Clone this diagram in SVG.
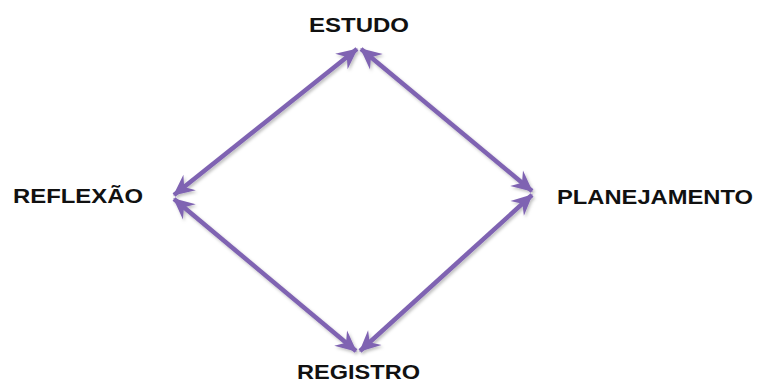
<svg xmlns="http://www.w3.org/2000/svg" width="763" height="383" viewBox="0 0 763 383">
<style>
.lbl{font-family:"Liberation Sans",Arial,sans-serif;font-weight:bold;font-size:21px;fill:#111;}
.con{stroke:#7f63b2;stroke-width:4.5;fill:none;marker-start:url(#ah);marker-end:url(#ah);}
</style>
<defs>
<marker id="ah" viewBox="-22 -12 24 24" markerWidth="24" markerHeight="24" refX="0" refY="0" orient="auto-start-reverse" markerUnits="userSpaceOnUse">
<path d="M1,0 L-20,-10 L-13,0 L-20,10 Z" fill="#7f63b2"/>
</marker>
<filter id="sh" x="-10%" y="-10%" width="120%" height="120%">
<feDropShadow dx="1.5" dy="2" stdDeviation="1.5" flood-color="#000" flood-opacity="0.25"/>
</filter>
</defs>
<rect width="763" height="383" fill="#fff"/>
<g id="connectors" filter="url(#sh)">
<line class="con" x1="357" y1="49" x2="174" y2="195"/>
<line class="con" x1="361" y1="49" x2="532" y2="191"/>
<line class="con" x1="174" y1="199" x2="356" y2="351"/>
<line class="con" x1="532" y1="195" x2="360" y2="351"/>
</g>
<g id="estudo"><text class="lbl" x="309" y="32" textLength="100" lengthAdjust="spacingAndGlyphs">ESTUDO</text></g>
<g id="reflexao"><text class="lbl" x="13" y="203" textLength="130" lengthAdjust="spacingAndGlyphs">REFLEXÃO</text></g>
<g id="planejamento"><text class="lbl" x="557" y="204" textLength="196" lengthAdjust="spacingAndGlyphs">PLANEJAMENTO</text></g>
<g id="registro"><text class="lbl" x="297" y="379" textLength="123" lengthAdjust="spacingAndGlyphs">REGISTRO</text></g>
</svg>
